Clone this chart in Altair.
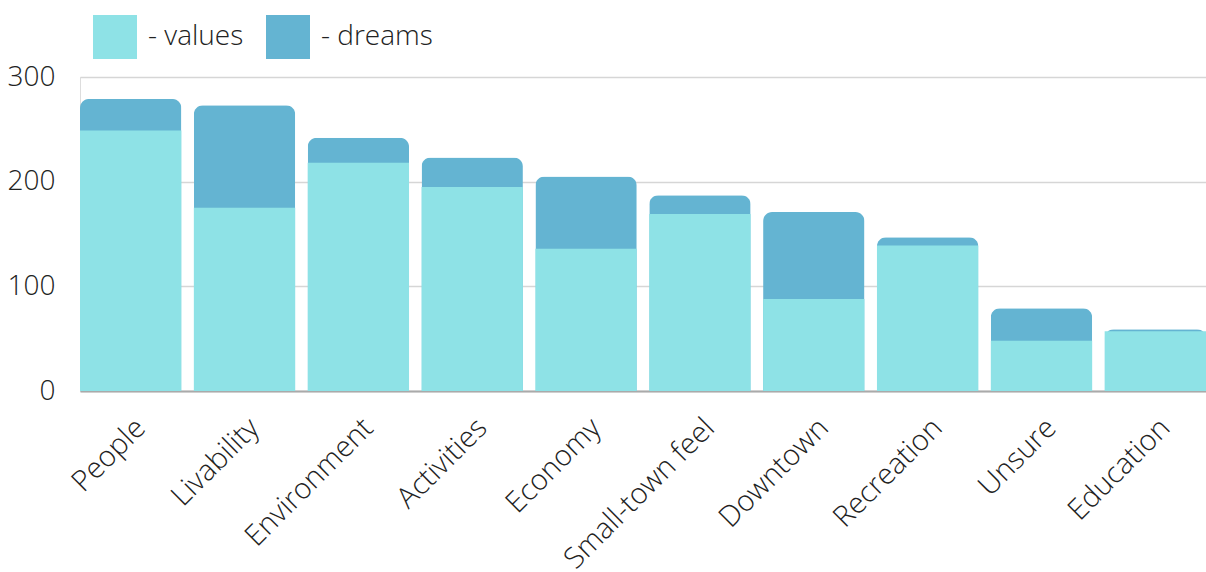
import altair as alt
import pandas as pd

categories = ["People", "Livability", "Environment", "Activities", "Economy",
              "Small-town feel", "Downtown", "Recreation", "Unsure", "Education"]
values = [249, 175, 218, 195, 136, 169, 88, 139, 48, 57]
dreams = [30, 98, 24, 28, 69, 18, 83, 8, 31, 2]

df = pd.DataFrame({"category": categories, "values": values, "dreams": dreams})

FONT = "Open Sans"
color_scale = alt.Scale(domain=["values", "dreams"], range=["#8ee2e6", "#64b4d2"])

x_enc = alt.X("category:N", sort=categories, title=None,
              scale=alt.Scale(paddingInner=0.11, paddingOuter=0),
              axis=alt.Axis(labelAngle=-45, labelFontSize=29, labelFont=FONT,
                            labelFontWeight=300, labelColor="#222",
                            labelPadding=22, labelLimit=400, ticks=False,
                            domainColor="#aaa", domainWidth=2, grid=False))
y_axis = alt.Axis(values=[0, 100, 200, 300], labelFontSize=28, labelFont=FONT,
                  labelFontWeight=300, labelColor="#222", labelPadding=25,
                  ticks=False, domain=False, gridColor="#d6d6d6", gridWidth=1.5)

legend = alt.Legend(orient="none", legendX=13, legendY=-62,
                    direction="horizontal", title=None,
                    symbolType="square", symbolSize=1936,
                    symbolStrokeWidth=0, labelFontSize=28,
                    labelFont=FONT, labelFontWeight=300,
                    labelColor="#222", columnPadding=22,
                    labelOffset=11, labelExpr="'- ' + datum.label")

base = alt.Chart(df)

total = base.transform_calculate(
    total="datum.values + datum.dreams", series="'dreams'"
).mark_bar(cornerRadiusTopLeft=9, cornerRadiusTopRight=9).encode(
    x=x_enc,
    y=alt.Y("total:Q", title=None, scale=alt.Scale(domain=[0, 300], nice=False),
            axis=y_axis),
    color=alt.Color("series:N", scale=color_scale, legend=legend),
)

vals = base.transform_calculate(series="'values'").mark_bar().encode(
    x=x_enc,
    y=alt.Y("values:Q"),
    color=alt.Color("series:N", scale=color_scale, legend=legend),
)

chart = alt.layer(total, vals).properties(
    width=1126, height=314,
    padding={"left": 80, "top": 77, "right": 0, "bottom": 181},
    autosize=alt.AutoSizeParams(type="none"),
).configure_view(stroke=None).configure(background="white")

chart.save("out.html", embed_options={"renderer": "svg", "actions": False})
